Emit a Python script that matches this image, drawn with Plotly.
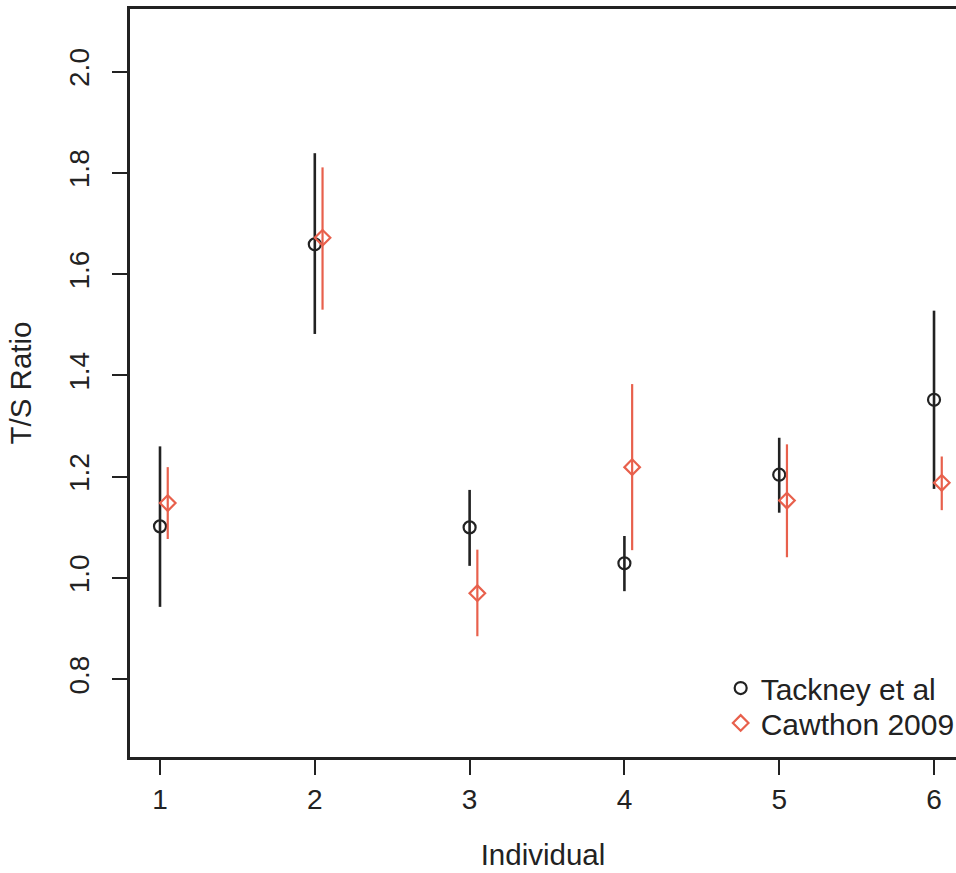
import plotly.graph_objects as go
import numpy as np

individuals = [1, 2, 3, 4, 5, 6]
cawthon_offset = 0.05

tackney_mean = [1.102, 1.659, 1.100, 1.029, 1.204, 1.352]
tackney_upper = [1.260, 1.839, 1.174, 1.083, 1.277, 1.528]
tackney_lower = [0.943, 1.482, 1.024, 0.974, 1.129, 1.176]

cawthon_mean = [1.148, 1.672, 0.970, 1.219, 1.153, 1.188]
cawthon_upper = [1.219, 1.811, 1.056, 1.383, 1.264, 1.240]
cawthon_lower = [1.077, 1.530, 0.885, 1.055, 1.041, 1.134]

x_ticks = [1, 2, 3, 4, 5, 6]
y_ticks = [0.8, 1.0, 1.2, 1.4, 1.6, 1.8, 2.0]
y_ticklabels = ["0.8", "1.0", "1.2", "1.4", "1.6", "1.8", "2.0"]

BLACK = "#222222"
RED = "#E8604C"
FONT = "Liberation Sans, Arial, sans-serif"

tm = np.array(tackney_mean)
cm = np.array(cawthon_mean)

fig = go.Figure()
fig.add_trace(go.Scatter(
    x=individuals, y=tackney_mean, mode="markers", name="Tackney et al",
    legend="legend",
    marker=dict(symbol="circle-open", size=12, color=BLACK, line=dict(width=2.2, color=BLACK)),
    error_y=dict(type="data", symmetric=False,
                 array=list(np.array(tackney_upper) - tm),
                 arrayminus=list(tm - np.array(tackney_lower)),
                 width=0, thickness=2.6, color=BLACK),
))
fig.add_trace(go.Scatter(
    x=[i + cawthon_offset for i in individuals], y=cawthon_mean, mode="markers", name="Cawthon 2009",
    legend="legend2",
    marker=dict(symbol="diamond-open", size=12, color=RED, line=dict(width=2.2, color=RED)),
    error_y=dict(type="data", symmetric=False,
                 array=list(np.array(cawthon_upper) - cm),
                 arrayminus=list(cm - np.array(cawthon_lower)),
                 width=0, thickness=2.2, color=RED),
))

legend_common = dict(xanchor="left", yanchor="middle", bgcolor="rgba(0,0,0,0)",
                     borderwidth=0, font=dict(size=30, color=BLACK), itemwidth=30)

fig.update_layout(
    width=956, height=873,
    margin=dict(l=130, r=0, t=9, b=116, autoexpand=False),
    paper_bgcolor="white", plot_bgcolor="white",
    font=dict(family=FONT, size=28, color=BLACK),
    showlegend=True,
    legend=dict(x=0.7151, y=0.0922, **legend_common),
    legend2=dict(x=0.7151, y=0.0455, **legend_common),
)
fig.update_xaxes(
    range=[0.8062, 6.142], tickvals=x_ticks, ticktext=[str(v) for v in x_ticks],
    showgrid=False, zeroline=False, showline=True, linecolor=BLACK, linewidth=2.5,
    mirror=True, ticks="outside", ticklen=15, tickwidth=2.2, tickcolor=BLACK,
    tickfont=dict(size=28), ticklabelstandoff=1,
    title=dict(text="Individual", font=dict(size=29.5), standoff=31),
)
fig.update_yaxes(
    range=[0.6465, 2.1238], tickvals=y_ticks, ticktext=y_ticklabels,
    showgrid=False, zeroline=False, showline=True, linecolor=BLACK, linewidth=2.5,
    mirror=False, ticks="outside", ticklen=15, tickwidth=2.2, tickcolor=BLACK,
    tickangle=-90, tickfont=dict(size=28), ticklabelstandoff=12,
    title=dict(text="T/S Ratio", font=dict(size=29.5), standoff=24),
)

fig.write_html("out.html")
